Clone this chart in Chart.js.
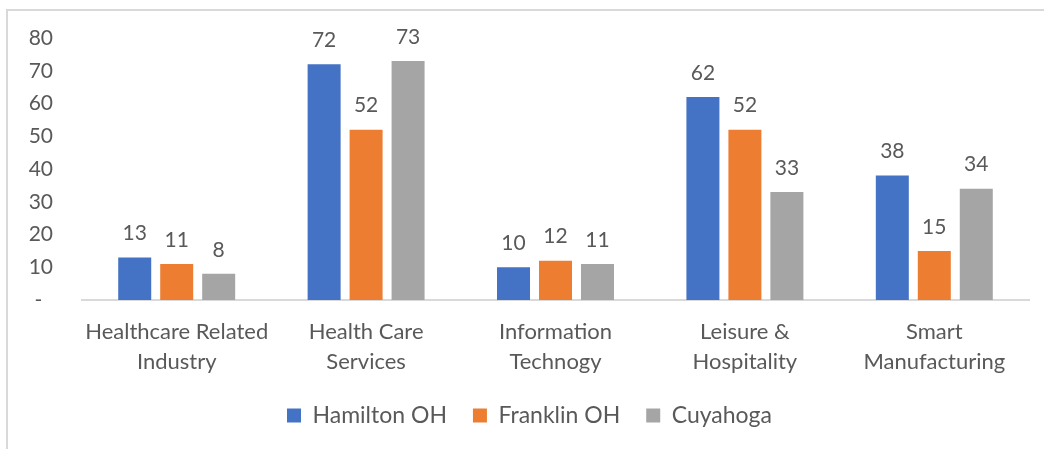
<!DOCTYPE html>
<html>
<head>
<meta charset="utf-8">
<script src="https://cdn.jsdelivr.net/npm/chart.js@4.4.1/dist/chart.umd.min.js"></script>
<style>
  html,body{margin:0;padding:0;background:#fff;overflow:hidden;}
  #wrap{position:relative;width:1044px;height:449px;}
  #frame{position:absolute;left:6px;top:9px;width:1100px;height:500px;border-left:2px solid #d9d9d9;border-top:2px solid #d9d9d9;pointer-events:none;}
  canvas{position:absolute;left:0;top:0;}
</style>
</head>
<body>
<div id="wrap">
  <canvas id="c" width="1044" height="449"></canvas>
  <div id="frame"></div>
</div>
<script>
const categories = [
  ["Healthcare Related","Industry"],
  ["Health Care","Services"],
  ["Information","Technogy"],
  ["Leisure &","Hospitality"],
  ["Smart","Manufacturing"]
];
const seriesNames = ["Hamilton OH","Franklin OH","Cuyahoga"];
const hamilton = [13, 72, 10, 62, 38];
const franklin = [11, 52, 12, 52, 15];
const cuyahoga = [8, 73, 11, 33, 34];
const yTicks = [0, 10, 20, 30, 40, 50, 60, 70, 80];
const colors = ["#4472C4", "#ED7D31", "#A5A5A5"];

const FONT = "Lato";
const TXT = "#595959";

const labelPlugin = {
  id: 'barLabels',
  afterLayout(chart) {
    const lg = chart.legend;
    if (lg) { lg.left += 15; lg.right += 15; }
  },
  afterDatasetsDraw(chart) {
    const ctx = chart.ctx;
    ctx.save();
    ctx.font = "21px " + FONT;
    ctx.fillStyle = TXT;
    ctx.textAlign = 'center';
    ctx.textBaseline = 'middle';
    chart.data.datasets.forEach((ds, i) => {
      const meta = chart.getDatasetMeta(i);
      meta.data.forEach((el, j) => {
        ctx.fillText(String(ds.data[j]), el.x, el.y - 24);
      });
    });
    ctx.restore();
  }
};

new Chart(document.getElementById('c'), {
  type: 'bar',
  data: {
    labels: categories,
    datasets: [
      { label: seriesNames[0], data: hamilton, backgroundColor: colors[0] },
      { label: seriesNames[1], data: franklin, backgroundColor: colors[1] },
      { label: seriesNames[2], data: cuyahoga, backgroundColor: colors[2] }
    ]
  },
  options: {
    responsive: false,
    animation: false,
    devicePixelRatio: 1,
    categoryPercentage: 0.665,
    barPercentage: 0.786,
    layout: { padding: { top: 38, right: 15, left: 0, bottom: 12 } },
    plugins: {
      legend: {
        position: 'bottom',
        labels: {
          font: { family: FONT, size: 23 },
          color: TXT,
          boxWidth: 14,
          boxHeight: 14,
          padding: 26
        }
      },
      tooltip: { enabled: false }
    },
    scales: {
      x: {
        grid: { display: false, drawTicks: false },
        border: { display: true, color: '#d9d9d9', width: 2 },
        ticks: {
          color: TXT,
          font: { family: FONT, size: 22, lineHeight: 1.36 },
          padding: 17,
          maxRotation: 0,
          autoSkip: false
        },
        afterFit(s) { s.height = 78; s.paddingTop = 0; s.paddingBottom = 0; }
      },
      y: {
        min: 0,
        max: 80,
        grid: { display: false, drawTicks: false },
        border: { display: false },
        afterBuildTicks(s) { s.ticks = yTicks.map(v => ({ value: v })); },
        ticks: {
          color: TXT,
          font: { family: FONT, size: 21 },
          padding: 29,
          callback: v => v === 0 ? '-  ' : String(v)
        },
        afterFit(s) { s.width = 82; s.paddingTop = 0; s.paddingBottom = 0; }
      }
    }
  },
  plugins: [labelPlugin]
});
</script>
</body>
</html>
